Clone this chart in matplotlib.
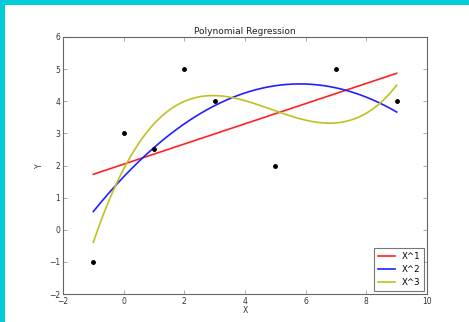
import matplotlib
matplotlib.use("Agg")
import matplotlib.pyplot as plt
from matplotlib.patches import Rectangle
import numpy as np

# data points
x_pts = [-1, 0, 1, 2, 3, 5, 7, 9]
y_pts = [-1, 3, 2.5, 5, 4, 2, 5, 4]
degrees = [1, 2, 3]
colors = ['#ff2020', '#2020ff', '#c0c020']
labels = ['X^1', 'X^2', 'X^3']

fig = plt.figure(figsize=(4.69, 3.22), dpi=100)
fig.patch.set_facecolor('white')

# cyan frame at top and left
fig.patches.append(Rectangle((0, 1 - 5/322), 1, 5/322, transform=fig.transFigure,
                             facecolor='#00cdd8', edgecolor='none', zorder=0))
fig.patches.append(Rectangle((0, 0), 5/469, 1, transform=fig.transFigure,
                             facecolor='#00cdd8', edgecolor='none', zorder=0))

ax = fig.add_axes([63/469, 1 - 294/322, (427 - 63)/469, (294 - 37)/322])

#fit and draw each polynomial
xs = np.linspace(min(x_pts), max(x_pts), 200)
for deg, c, lab in zip(degrees, colors, labels):
    coef = np.polyfit(x_pts, y_pts, deg)
    ax.plot(xs, np.polyval(coef, xs), color=c, lw=1.2, label=lab)
ax.plot(x_pts, y_pts, 'o', color='black', ms=2.5, ls='none')

ax.set_xlim(-2, 10)
ax.set_ylim(-2, 6)
ax.set_title('Polynomial Regression', fontsize=6.5, color='#222222', pad=2)
ax.set_xlabel('X', fontsize=5.5, color='#333333', labelpad=0)
ax.set_ylabel('Y', fontsize=5.5, color='#333333', labelpad=4)
ax.tick_params(direction='in', top=True, right=True, length=3, width=0.5,
               color='#888888', labelsize=5.5, labelcolor='#333333', pad=2)
for s in ax.spines.values():
    s.set_color('#666666')
    s.set_linewidth(0.8)

leg = ax.legend(loc='lower right', fontsize=6.2, fancybox=False, handlelength=1.9,
                borderpad=0.45, labelspacing=0.45, borderaxespad=0.35)
leg.get_frame().set_edgecolor('#555555')
leg.get_frame().set_linewidth(0.8)

fig.savefig('out.png', dpi=100)
